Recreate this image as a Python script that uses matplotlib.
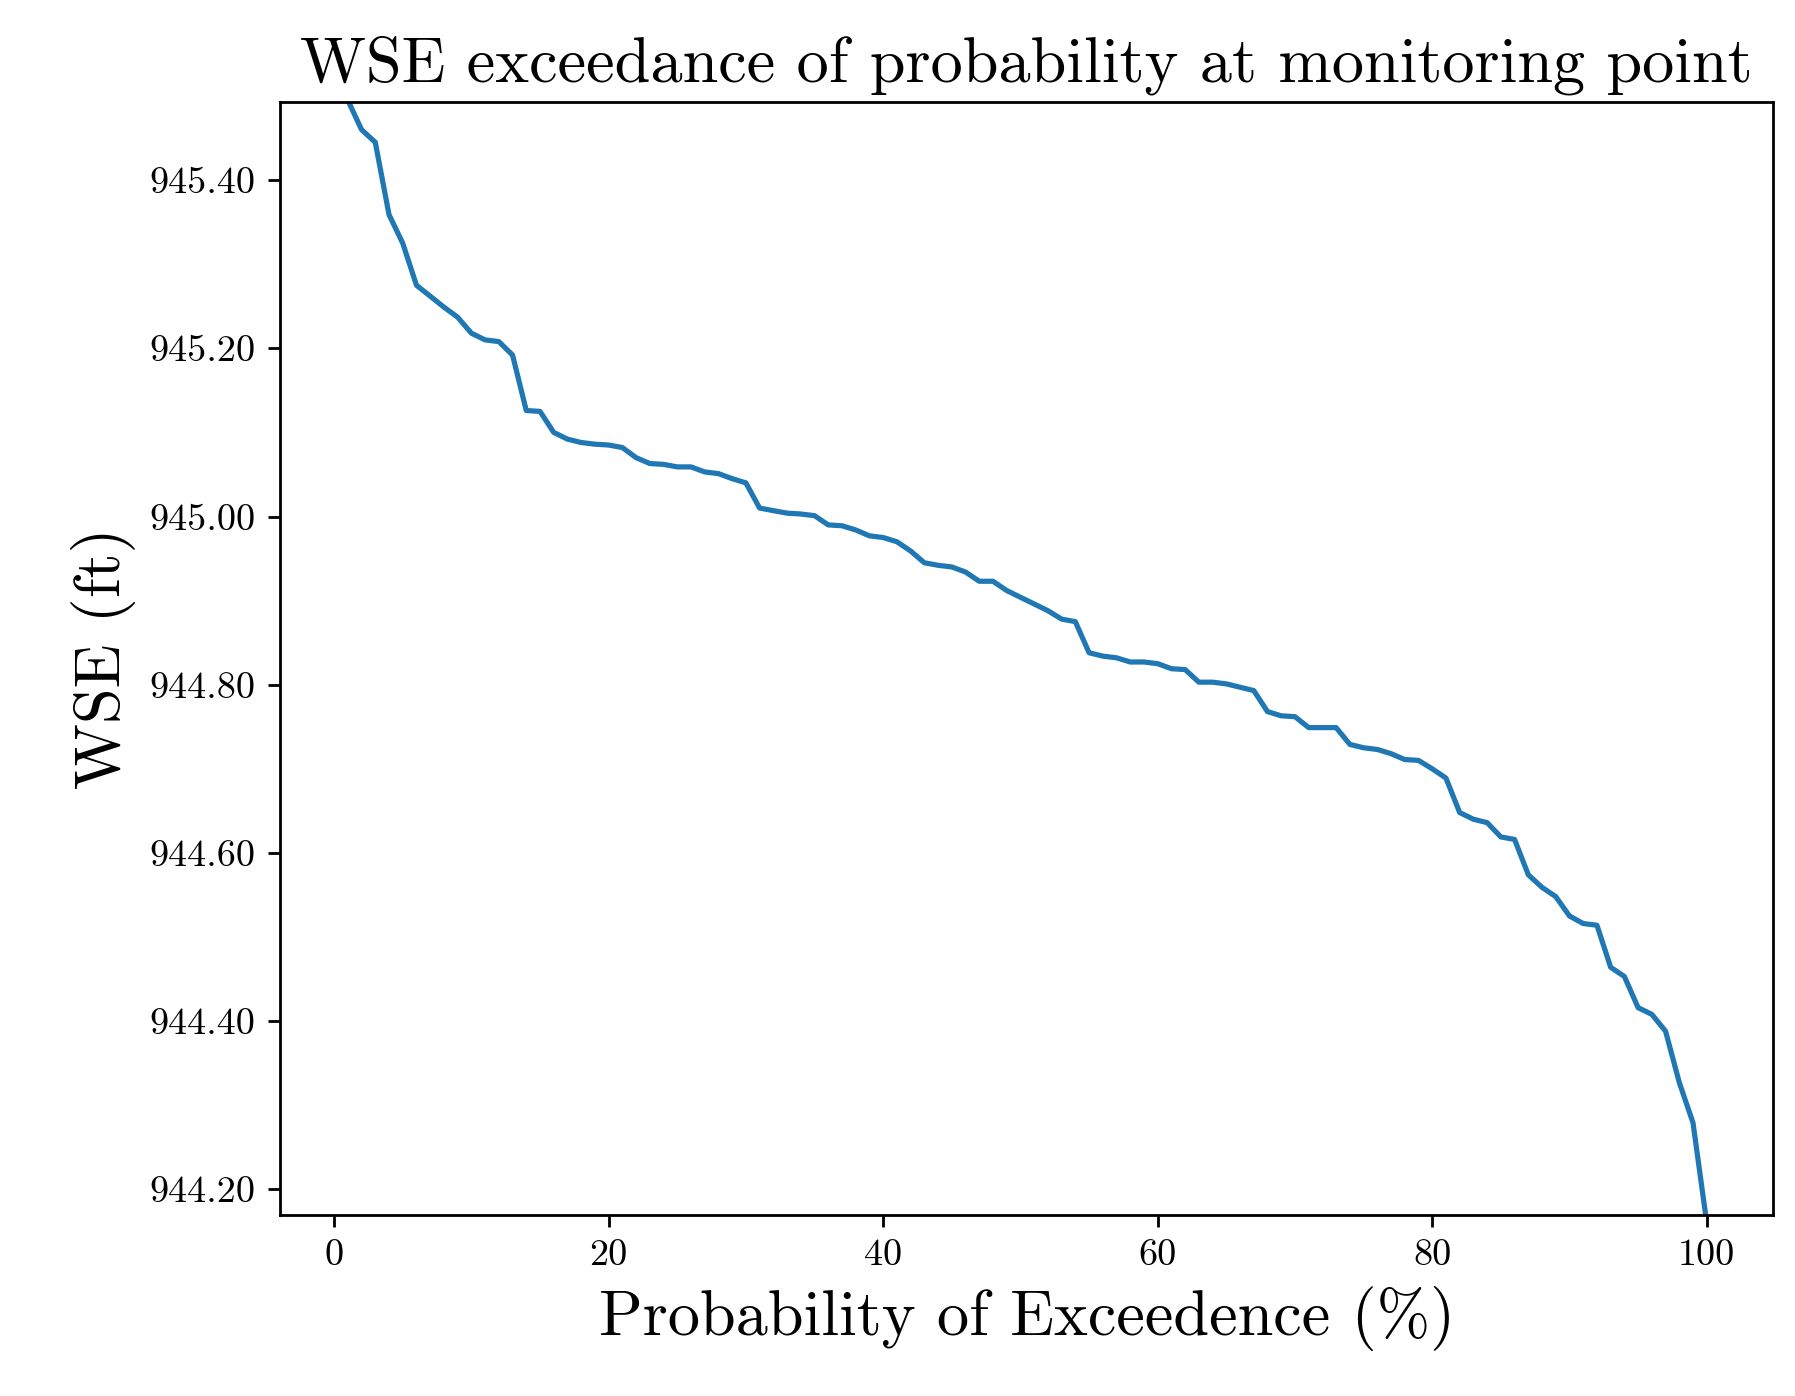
import matplotlib
matplotlib.use("Agg")
import matplotlib.pyplot as plt
import numpy as np

prob = list(range(0, 101))
wse = [945.52, 945.495, 945.460, 945.445, 945.359, 945.325, 945.275, 945.262, 945.249, 945.237,
       945.218, 945.210, 945.208, 945.192, 945.126, 945.125, 945.100, 945.092, 945.088, 945.086,
       945.085, 945.082, 945.070, 945.063, 945.062, 945.059, 945.059, 945.053, 945.051, 945.045,
       945.040, 945.010, 945.007, 945.004, 945.003, 945.001, 944.990, 944.989, 944.984, 944.977,
       944.975, 944.970, 944.959, 944.945, 944.942, 944.940, 944.934, 944.923, 944.923, 944.912,
       944.904, 944.896, 944.888, 944.878, 944.875, 944.838, 944.834, 944.832, 944.827, 944.827,
       944.825, 944.819, 944.818, 944.803, 944.803, 944.801, 944.797, 944.793, 944.768, 944.763,
       944.762, 944.749, 944.749, 944.749, 944.729, 944.725, 944.723, 944.718, 944.711, 944.710,
       944.700, 944.689, 944.648, 944.640, 944.636, 944.619, 944.616, 944.574, 944.559, 944.548,
       944.525, 944.516, 944.514, 944.464, 944.453, 944.416, 944.408, 944.388, 944.327, 944.279,
       944.16]
yticks = [944.2, 944.4, 944.6, 944.8, 945.0, 945.2, 945.4]

plt.rcParams['font.family'] = ['cmr10', 'DejaVu Serif']
plt.rcParams['mathtext.fontset'] = 'cm'
plt.rcParams['axes.unicode_minus'] = False

fig = plt.figure(figsize=(7.18, 5.584), dpi=250)
ax = fig.add_axes([0.156, 0.130, 0.832, 0.797])
ax.plot(prob, wse, color='#1f77b4', lw=1.5)
ax.set_xlim(-3.94, 104.86)
ax.set_ylim(944.170, 945.493)
ax.set_yticks(yticks)
ax.set_yticklabels([f"{v:.2f}" for v in yticks])
ax.tick_params(labelsize=11)
ax.set_title("WSE exceedance of probability at monitoring point", fontsize=18.5)
ax.set_xlabel("Probability of Exceedence (%)", fontsize=18.5)
ax.set_ylabel("WSE (ft)", fontsize=18.5)
fig.savefig("out.png", dpi=250)
